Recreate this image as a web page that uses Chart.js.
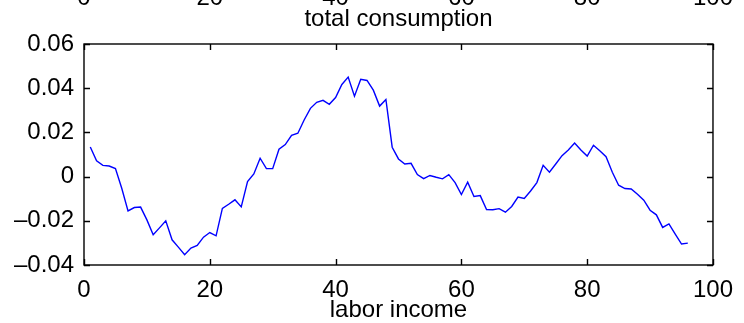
<!DOCTYPE html>
<html>
<head>
<meta charset="utf-8">
<script src="https://cdn.jsdelivr.net/npm/chart.js@4/dist/chart.umd.min.js"></script>
<style>
  html, body { margin: 0; padding: 0; background: #ffffff; }
  #wrap { width: 744px; height: 323px; }
</style>
</head>
<body>
<div id="wrap"><canvas id="c" width="744" height="323"></canvas></div>
<script>
// Period index along the horizontal axis
const periods = [
   1,  2,  3,  4,  5,  6,  7,  8,  9, 10, 11, 12, 13, 14, 15, 16,
  17, 18, 19, 20, 21, 22, 23, 24, 25, 26, 27, 28, 29, 30, 31, 32,
  33, 34, 35, 36, 37, 38, 39, 40, 41, 42, 43, 44, 45, 46, 47, 48,
  49, 50, 51, 52, 53, 54, 55, 56, 57, 58, 59, 60, 61, 62, 63, 64,
  65, 66, 67, 68, 69, 70, 71, 72, 73, 74, 75, 76, 77, 78, 79, 80,
  81, 82, 83, 84, 85, 86, 87, 88, 89, 90, 91, 92, 93, 94, 95, 96
];

// Labor income series
const laborIncome = [
   0.0134,  0.0071,  0.0051,  0.0048,  0.0036, -0.0053, -0.0155, -0.0140,
  -0.0138, -0.0196, -0.0263, -0.0232, -0.0200, -0.0286, -0.0319, -0.0353,
  -0.0323, -0.0311, -0.0274, -0.0253, -0.0268, -0.0144, -0.0125, -0.0105,
  -0.0137, -0.0023,  0.0012,  0.0083,  0.0036,  0.0036,  0.0124,  0.0145,
   0.0187,  0.0196,  0.0256,  0.0309,  0.0336,  0.0345,  0.0327,  0.0358,
   0.0417,  0.0450,  0.0364,  0.0440,  0.0435,  0.0391,  0.0319,  0.0349,
   0.0133,  0.0080,  0.0057,  0.0060,  0.0009, -0.0009,  0.0005, -0.0003,
  -0.0010,  0.0009, -0.0027, -0.0081, -0.0025, -0.0090, -0.0086, -0.0149,
  -0.0150, -0.0145, -0.0161, -0.0135, -0.0093, -0.0099, -0.0065, -0.0027,
   0.0051,  0.0020,  0.0057,  0.0095,  0.0120,  0.0152,  0.0120,  0.0093,
   0.0142,  0.0117,  0.0090,  0.0020, -0.0039, -0.0054, -0.0056, -0.0080,
  -0.0107, -0.0152, -0.0173, -0.0230, -0.0214, -0.0260, -0.0305, -0.0301
];

const xTicks = [0, 20, 40, 60, 80, 100];
const yTicks = [-0.04, -0.02, 0, 0.02, 0.04, 0.06];

const xTitle = 'labor income';
const upperTitle = 'total consumption';

const FONT = '"Liberation Sans", Arial, Helvetica, sans-serif';
const FONT_SIZE = 24;
const TICK_LEN = 6;

function fmtY(v) {
  if (Math.abs(v) < 1e-9) return '0';
  const s = Math.abs(v).toFixed(2);
  return (v < 0 ? '\u2013' : '') + s;
}

// Box frame with inward-pointing ticks on all four sides
const framePlugin = {
  id: 'frame',
  afterDatasetsDraw(chart) {
    const { ctx, chartArea: a, scales } = chart;
    ctx.save();
    ctx.strokeStyle = '#000000';
    ctx.lineWidth = 1.4;
    ctx.beginPath();
    xTicks.forEach(v => {
      const px = Math.round(scales.x.getPixelForValue(v)) + 0.5;
      ctx.moveTo(px, a.bottom); ctx.lineTo(px, a.bottom - TICK_LEN);
      ctx.moveTo(px, a.top); ctx.lineTo(px, a.top + TICK_LEN);
    });
    yTicks.forEach(v => {
      const py = Math.round(scales.y.getPixelForValue(v)) + 0.5;
      ctx.moveTo(a.left, py); ctx.lineTo(a.left + TICK_LEN, py);
      ctx.moveTo(a.right, py); ctx.lineTo(a.right - TICK_LEN, py);
    });
    ctx.stroke();
    ctx.strokeRect(a.left, a.top, a.right - a.left, a.bottom - a.top);
    ctx.restore();
  }
};

// Tick labels and title of the panel above, partly cut off at the top edge
const upperPanelPlugin = {
  id: 'upperPanel',
  afterDraw(chart) {
    const { ctx, chartArea: a, scales } = chart;
    ctx.save();
    ctx.fillStyle = '#000000';
    ctx.font = FONT_SIZE + 'px ' + FONT;
    ctx.textAlign = 'center';
    ctx.textBaseline = 'alphabetic';
    xTicks.forEach(v => {
      ctx.fillText(String(v), scales.x.getPixelForValue(v), 5);
    });
    ctx.fillText(upperTitle, (a.left + a.right) / 2, 26);
    ctx.restore();
  }
};

new Chart(document.getElementById('c'), {
  type: 'line',
  data: {
    datasets: [{
      data: periods.map((p, i) => ({ x: p, y: laborIncome[i] })),
      borderColor: 'rgb(0,0,255)',
      borderWidth: 1.4,
      pointRadius: 0,
      tension: 0,
      fill: false
    }]
  },
  options: {
    responsive: false,
    animation: false,
    devicePixelRatio: 1,
    layout: { padding: { top: 44, right: 24, left: 0, bottom: 0 } },
    plugins: { legend: { display: false }, tooltip: { enabled: false } },
    scales: {
      x: {
        type: 'linear',
        min: 0, max: 100,
        afterBuildTicks: s => { s.ticks = xTicks.map(v => ({ value: v })); },
        afterFit: s => { s.height = 58; },
        grid: { display: false, drawTicks: false },
        border: { display: false },
        ticks: {
          padding: 11,
          color: '#000000',
          font: { family: FONT, size: FONT_SIZE },
          maxRotation: 0,
          autoSkip: false,
          callback: v => String(v)
        },
        title: {
          display: true,
          text: xTitle,
          color: '#000000',
          font: { family: FONT, size: FONT_SIZE, lineHeight: 1 },
          padding: { top: 0, bottom: 1 }
        }
      },
      y: {
        type: 'linear',
        min: -0.04, max: 0.06,
        afterBuildTicks: s => { s.ticks = yTicks.map(v => ({ value: v })); },
        afterFit: s => { s.width = 84; },
        grid: { display: false, drawTicks: false },
        border: { display: false },
        ticks: {
          padding: 10,
          color: '#000000',
          font: { family: FONT, size: FONT_SIZE },
          autoSkip: false,
          callback: v => fmtY(v)
        }
      }
    }
  },
  plugins: [framePlugin, upperPanelPlugin]
});
</script>
</body>
</html>
